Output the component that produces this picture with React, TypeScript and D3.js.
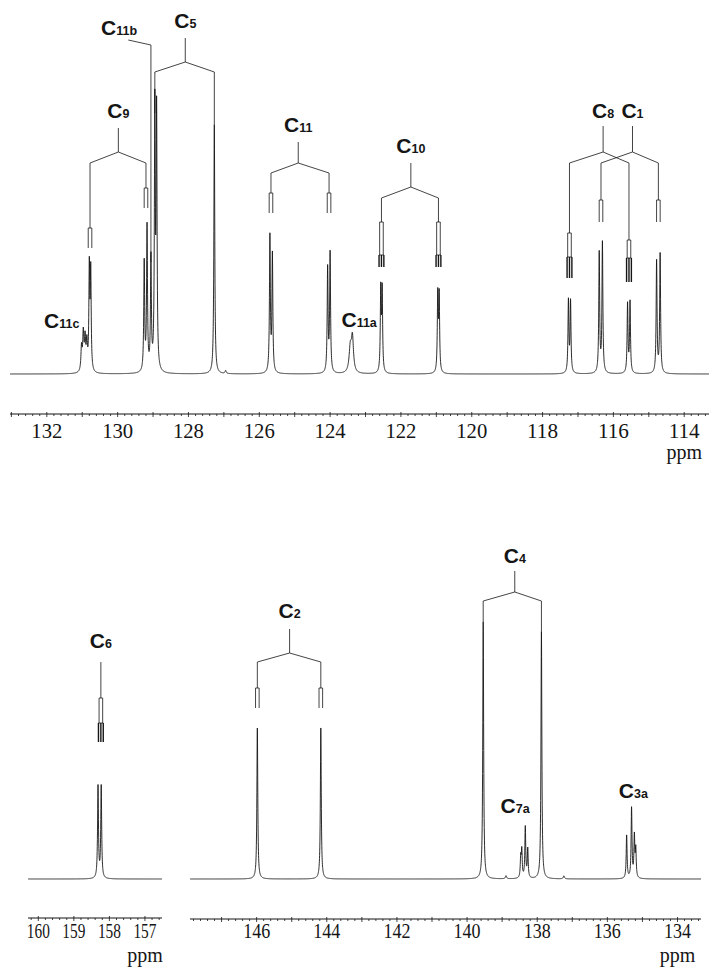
import React from "react";
import * as d3 from "d3";

// [ppm, height above baseline, half width in ppm]
type Peak = [number, number, number];

const topPeaks: Peak[] = [
  [131.02, 24, 0.02], [130.97, 37, 0.02], [130.92, 31, 0.02], [130.87, 27, 0.02],
  [130.80, 102, 0.015], [130.76, 98, 0.015],
  [129.25, 109, 0.015], [129.17, 144, 0.015],
  [129.06, 112, 0.015],
  [128.95, 261, 0.015], [128.90, 255, 0.015],
  [127.27, 249, 0.015],
  [126.95, 3, 0.02],
  [125.70, 136, 0.015], [125.63, 117, 0.015],
  [124.07, 104, 0.015], [124.00, 119, 0.015],
  [123.43, 24, 0.04], [123.37, 34, 0.035],
  [122.57, 82, 0.015], [122.53, 81, 0.015],
  [120.96, 77, 0.015], [120.92, 76, 0.015],
  [117.27, 72, 0.015], [117.21, 71, 0.015],
  [116.40, 120, 0.015], [116.31, 130, 0.015],
  [115.60, 69, 0.015], [115.53, 71, 0.015],
  [114.78, 112, 0.015], [114.68, 119, 0.015],
];

const leftPeaks: Peak[] = [
  [158.32, 92, 0.015], [158.23, 92, 0.015],
];

const rightPeaks: Peak[] = [
  [145.98, 151, 0.015],
  [144.17, 151, 0.015],
  [139.54, 257, 0.015],
  [138.89, 3, 0.02],
  [138.47, 20, 0.015], [138.44, 27, 0.015], [138.34, 51, 0.015], [138.27, 29, 0.015],
  [137.88, 247, 0.015],
  [137.24, 3, 0.02],
  [135.45, 43, 0.015], [135.31, 70, 0.015], [135.23, 41, 0.015], [135.19, 28, 0.015],
];

const topTicks = [132, 130, 128, 126, 124, 122, 120, 118, 116, 114];
const leftTicks = [160, 159, 158, 157];
const rightTicks = [146, 144, 142, 140, 138, 136, 134];

type Leg = { ppm: number; plain: number; pair?: number; triple?: number };
type Tree = {
  sub: string; ppm: number; labelH: number;
  stemTop?: number; branchH?: number; legH?: number; legs: Leg[];
};

const topTrees: Tree[] = [
  { sub: "5", ppm: 128.09, labelH: 346, stemTop: 336, branchH: 312, legH: 302,
    legs: [{ ppm: 128.95, plain: 261 }, { ppm: 127.27, plain: 249 }] },
  { sub: "9", ppm: 129.98, labelH: 256, stemTop: 246, branchH: 222, legH: 211,
    legs: [{ ppm: 130.78, plain: 146, pair: 126 }, { ppm: 129.20, plain: 186, pair: 166 }] },
  { sub: "11", ppm: 124.90, labelH: 242, stemTop: 232, branchH: 211, legH: 201,
    legs: [{ ppm: 125.67, plain: 181, pair: 161 }, { ppm: 124.03, plain: 181, pair: 161 }] },
  { sub: "10", ppm: 121.72, labelH: 221, stemTop: 211, branchH: 187, legH: 176,
    legs: [{ ppm: 122.55, plain: 152, pair: 119, triple: 107 }, { ppm: 120.94, plain: 152, pair: 119, triple: 107 }] },
  { sub: "8", ppm: 116.29, labelH: 256, stemTop: 248, branchH: 222, legH: 211,
    legs: [{ ppm: 117.24, plain: 141, pair: 117, triple: 96 }, { ppm: 115.56, plain: 134, pair: 116, triple: 92 }] },
  { sub: "1", ppm: 115.46, labelH: 256, stemTop: 248, branchH: 222, legH: 211,
    legs: [{ ppm: 116.35, plain: 174, pair: 152 }, { ppm: 114.73, plain: 174, pair: 152 }] },
  { sub: "11c", ppm: 131.58, labelH: 46, legs: [] },
  { sub: "11a", ppm: 123.18, labelH: 47, legs: [] },
  { sub: "11b", ppm: 129.96, labelH: 339, legs: [] },
];

// label leader for C11b: [ppm, height] points
const leaderC11b: [number, number][] = [[129.70, 334], [129.06, 329], [129.06, 112]];

const leftTrees: Tree[] = [
  { sub: "6", ppm: 158.24, labelH: 231, stemTop: 217, branchH: 181, legH: 181,
    legs: [{ ppm: 158.24, plain: 181, pair: 156, triple: 137 }] },
];

const rightTrees: Tree[] = [
  { sub: "2", ppm: 145.06, labelH: 261, stemTop: 250, branchH: 226, legH: 217,
    legs: [{ ppm: 145.98, plain: 191, pair: 171 }, { ppm: 144.17, plain: 191, pair: 171 }] },
  { sub: "4", ppm: 138.64, labelH: 316, stemTop: 308, branchH: 287, legH: 278,
    legs: [{ ppm: 139.54, plain: 257 }, { ppm: 137.88, plain: 247 }] },
  { sub: "7a", ppm: 138.63, labelH: 66, legs: [] },
  { sub: "3a", ppm: 135.26, labelH: 81, legs: [] },
];

const INK = "#151515";
const SERIF = "'Liberation Serif', 'DejaVu Serif', serif";
const SANS = "'Liberation Sans', Arial, 'DejaVu Sans', sans-serif";

type Lin = d3.ScaleLinear<number, number>;

const Spectrum = ({ peaks, x, y }: { peaks: Peak[]; x: Lin; y: Lin }) => {
  const [a, b] = x.domain();
  const grid = d3.range(b, a, 0.003).concat(peaks.map((p) => p[0]));
  grid.sort(d3.ascending);
  const pts: [number, number][] = grid.map((v) => [
    v,
    d3.sum(peaks, (p) => (p[1] * p[2] * p[2]) / (p[2] * p[2] + (v - p[0]) * (v - p[0]))),
  ]);
  const line = d3.line<[number, number]>().x((d) => x(d[0])).y((d) => y(d[1]));
  return <path d={line(pts) || ""} fill="none" stroke={INK} strokeWidth={0.9} />;
};

const Axis = ({ x, y0, ticks, labelY, labelW, ppmY }: {
  x: Lin; y0: number; ticks: number[]; labelY: number; labelW: number; ppmY: number;
}) => {
  const [a, b] = x.domain();
  const [r0, r1] = x.range();
  const minor = d3.range(Math.ceil(b * 5), Math.floor(a * 5) + 1).map((i) => i / 5);
  const last = ticks[ticks.length - 1];
  return (
    <g>
      <line x1={r0} x2={r1} y1={y0} y2={y0} stroke={INK} strokeWidth={1.1} />
      {minor.map((v) => {
        const major = Math.abs(v - Math.round(v)) < 1e-6;
        return (
          <line key={v} x1={x(v)} x2={x(v)} y1={major ? y0 - 2 : y0} y2={y0 + (major ? 3 : 2)}
            stroke={INK} strokeWidth={0.8} />
        );
      })}
      {ticks.map((t) => (
        <text key={t} x={x(t)} y={labelY} textAnchor="middle" fontFamily={SERIF}
          fontSize={22} textLength={labelW} lengthAdjust="spacingAndGlyphs" fill={INK}>
          {t}
        </text>
      ))}
      <text x={x(last)} y={ppmY} textAnchor="middle" fontFamily={SERIF}
        fontSize={20} fill={INK}>ppm</text>
    </g>
  );
};

const Trees = ({ trees, x, y }: { trees: Tree[]; x: Lin; y: Lin }) => (
  <g fill="none" stroke={INK} strokeWidth={0.8}>
    {trees.map((t) => {
      const cx = x(t.ppm);
      return (
        <g key={t.sub}>
          {t.stemTop != null && (
            <line x1={cx} x2={cx} y1={y(t.stemTop)} y2={y(t.branchH!)} />
          )}
          {t.legs.map((l, i) => {
            const lx = x(l.ppm);
            return (
              <g key={i}>
                <path d={`M${cx},${y(t.branchH!)}L${lx},${y(t.legH!)}L${lx},${y(l.plain)}`} />
                {l.pair != null && (
                  <path d={`M${lx - 1.8},${y(l.pair)}V${y(l.plain)}H${lx + 1.8}V${y(l.pair)}`} />
                )}
                {l.triple != null && l.pair != null && (
                  <g strokeWidth={1.4}>
                    <line x1={lx - 2.4} x2={lx + 2.4} y1={y(l.pair)} y2={y(l.pair)} strokeWidth={0.8} />
                    {[-2.4, 0, 2.4].map((dx) => (
                      <line key={dx} x1={lx + dx} x2={lx + dx} y1={y(l.pair!)} y2={y(l.triple!)} />
                    ))}
                  </g>
                )}
              </g>
            );
          })}
          <text x={cx} y={y(t.labelH)} textAnchor="middle" stroke="none" fill={INK}
            fontFamily={SANS} fontWeight="bold" fontSize={21}>
            C<tspan fontSize={12.5}>{t.sub}</tspan>
          </text>
        </g>
      );
    })}
  </g>
);

export default function App() {
  const xTop = d3.scaleLinear().domain([133.04, 113.3]).range([10, 709]);
  const yTop = d3.scaleLinear().domain([0, 340]).range([374, 34]);
  const xLeft = d3.scaleLinear().domain([160.29, 156.52]).range([28, 162]);
  const xRight = d3.scaleLinear().domain([147.9, 133.33]).range([190, 701]);
  const yBot = d3.scaleLinear().domain([0, 340]).range([879, 539]);

  const leader = d3.line<[number, number]>().x((d) => xTop(d[0])).y((d) => yTop(d[1]));

  return (
    <svg width={712} height={970} viewBox="0 0 712 970"
      style={{ position: "absolute", left: 0, top: 0, background: "#fff" }}>
      <rect width={712} height={970} fill="#fff" />
      <Spectrum peaks={topPeaks} x={xTop} y={yTop} />
      <Trees trees={topTrees} x={xTop} y={yTop} />
      <path d={leader(leaderC11b) || ""} fill="none" stroke={INK} strokeWidth={0.8} />
      <Axis x={xTop} y0={414} ticks={topTicks} labelY={438} labelW={31} ppmY={459} />

      <Spectrum peaks={leftPeaks} x={xLeft} y={yBot} />
      <Trees trees={leftTrees} x={xLeft} y={yBot} />
      <Axis x={xLeft} y0={918} ticks={leftTicks} labelY={938} labelW={23} ppmY={962} />

      <Spectrum peaks={rightPeaks} x={xRight} y={yBot} />
      <Trees trees={rightTrees} x={xRight} y={yBot} />
      <Axis x={xRight} y0={919} ticks={rightTicks} labelY={938} labelW={27} ppmY={962} />
    </svg>
  );
}
